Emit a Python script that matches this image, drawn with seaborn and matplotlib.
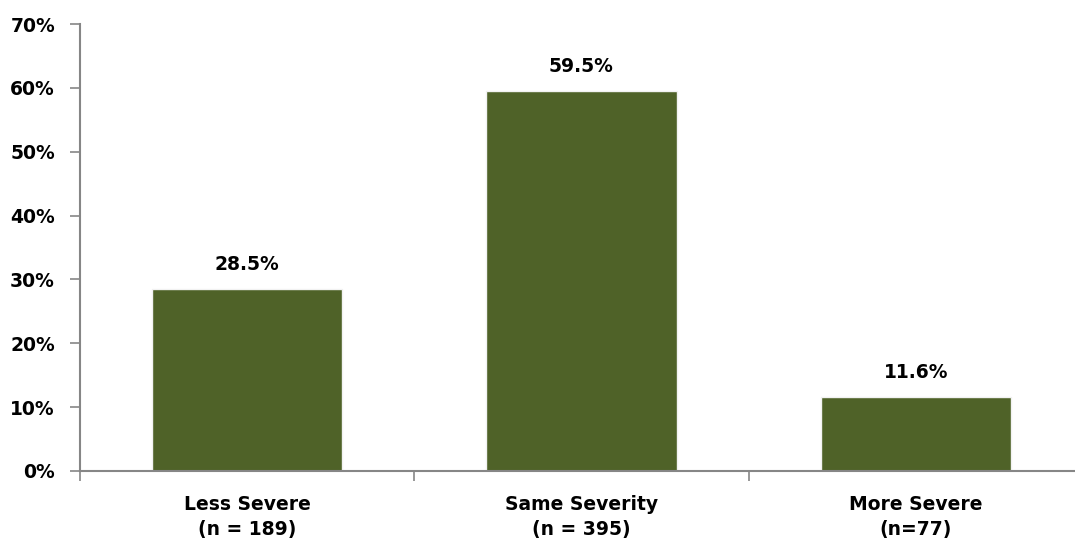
import matplotlib
matplotlib.use("Agg")
import matplotlib.pyplot as plt
import seaborn as sns
import pandas as pd
from matplotlib.ticker import FixedLocator, PercentFormatter

# data
categories = ["Less Severe\n(n = 189)", "Same Severity\n(n = 395)", "More Severe\n(n=77)"]
values = [28.5, 59.5, 11.6]
value_labels = ["28.5%", "59.5%", "11.6%"]

sns.set_style("white")
plt.rcParams["font.family"] = ["DejaVu Sans"]
plt.rcParams["font.weight"] = "bold"
plt.rcParams["text.color"] = "black"
plt.rcParams["xtick.labelcolor"] = "black"
plt.rcParams["ytick.labelcolor"] = "black"

axis_grey = "#868686"
bar_green = "#4F6228"

df = pd.DataFrame({"category": categories, "value": values})

fig = plt.figure(figsize=(10.75, 5.5), dpi=100)
ax = fig.add_axes([80 / 1075, 79 / 550, 1003 / 1075, 447 / 550])

sns.barplot(data=df, x="category", y="value", color=bar_green, width=0.57,
            saturation=1, edgecolor="#F2F2F2", linewidth=1, ax=ax)

ax.set_xlim(-0.5, 2.5)
ax.set_ylim(0, 70)
ax.set_yticks(range(0, 71, 10))
ax.yaxis.set_major_formatter(PercentFormatter(decimals=0))
ax.set_xlabel("")
ax.set_ylabel("")

# value labels above bars
for i, (v, lab) in enumerate(zip(values, value_labels)):
    ax.text(i, v + 2.4, lab, ha="center", va="bottom", fontsize=13.5,
            fontweight="bold", color="black")

for side in ["top", "right"]:
    ax.spines[side].set_visible(False)
for side in ["left", "bottom"]:
    ax.spines[side].set_color(axis_grey)
    ax.spines[side].set_linewidth(1.5)

ax.tick_params(axis="y", left=True, length=7, width=1.2, color=axis_grey,
               labelcolor="black", direction="out", labelsize=13.5, pad=11)
ax.tick_params(axis="x", which="major", bottom=True, length=0, labelsize=13.5,
               labelcolor="black", pad=17)
ax.xaxis.set_minor_locator(FixedLocator([-0.5, 0.5, 1.5, 2.5]))
ax.tick_params(axis="x", which="minor", bottom=True, length=7, width=1.2,
               color=axis_grey, direction="out")
for t in ax.get_xticklabels() + ax.get_yticklabels():
    t.set_fontweight("bold")
for t in ax.get_xticklabels():
    t.set_linespacing(1.4)

fig.savefig("out.png", dpi=100)
